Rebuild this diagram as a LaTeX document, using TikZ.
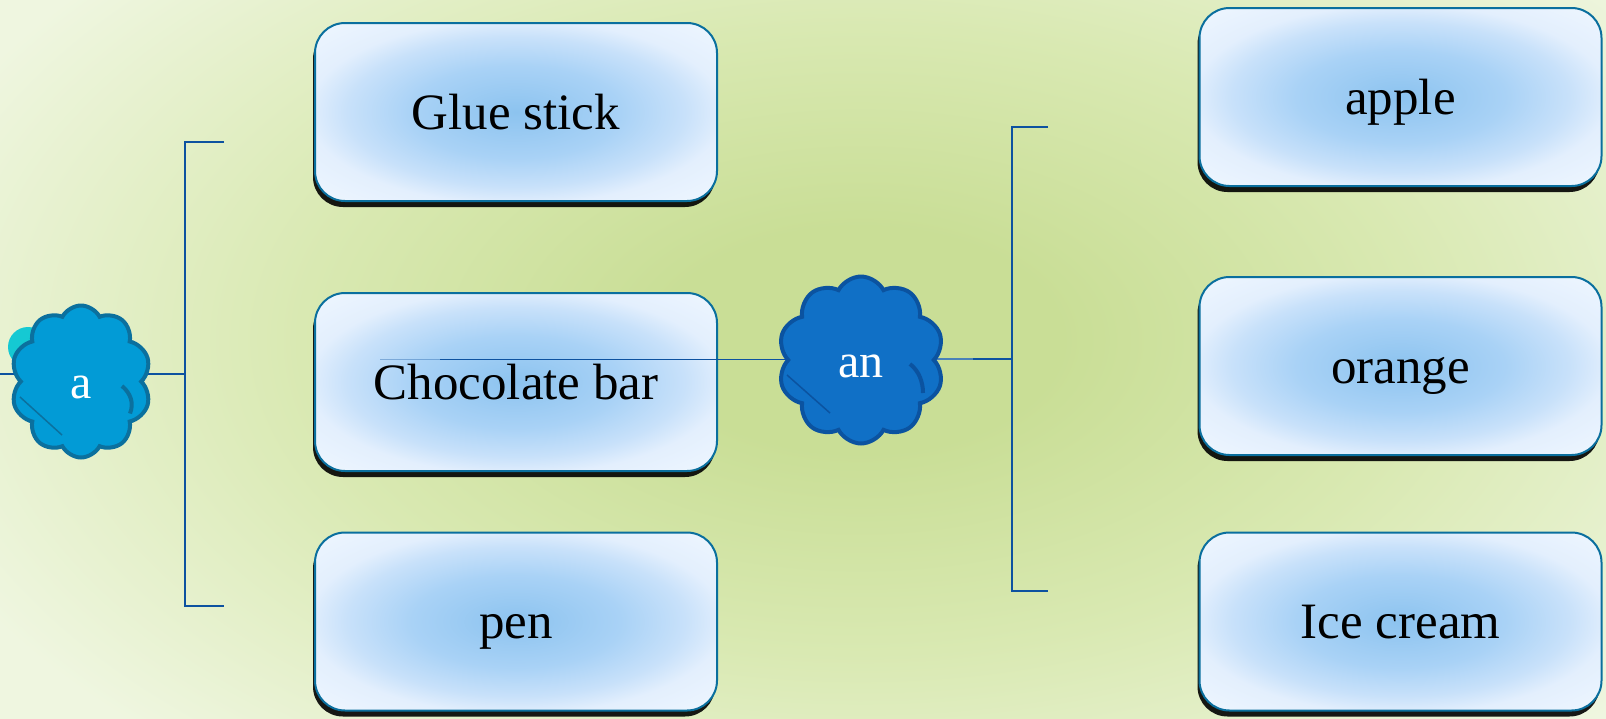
\documentclass[tikz,border=0pt]{standalone}
\usepackage{fontspec}
\setmainfont{Liberation Serif}
\usetikzlibrary{shapes.symbols,shadows}
\definecolor{bgin}{HTML}{C9DE96}
\definecolor{bgmid}{HTML}{D9E9B2}
\definecolor{bgout}{HTML}{EFF6E0}
\definecolor{boxin}{HTML}{8CC3EF}
\definecolor{boxa}{HTML}{A9D2F6}
\definecolor{boxb}{HTML}{C8E1FA}
\definecolor{boxout}{HTML}{E3EFFD}
\definecolor{boxcorner}{HTML}{EEF6FF}
\definecolor{boxline}{HTML}{0A6F9E}
\definecolor{brk}{HTML}{0D52A0}
\definecolor{brklight}{HTML}{4A82B8}
\definecolor{acl}{HTML}{029BD6}
\definecolor{acldraw}{HTML}{0B709E}
\definecolor{ancl}{HTML}{1070C6}
\definecolor{ancldraw}{HTML}{0B53A0}
\definecolor{cyanc}{HTML}{15C9D3}
\pgfdeclareradialshading{bgshade}{\pgfpoint{0bp}{0bp}}{color(0bp)=(bgin); color(5bp)=(bgin); color(14bp)=(bgmid); color(25bp)=(bgout); color(50bp)=(bgout)}
\pgfdeclareradialshading{boxshade}{\pgfpoint{0bp}{0bp}}{color(0bp)=(boxin); color(13bp)=(boxa); color(21bp)=(boxb); color(26bp)=(boxout); color(35bp)=(boxcorner); color(50bp)=(boxcorner)}
\pgfdeclarelayer{bglayer}
\pgfdeclarelayer{connlayer}
\pgfsetlayers{bglayer,connlayer,main}
\tikzset{
  itembox/.style={rectangle, rounded corners=30pt, draw=boxline, line width=2pt,
    shade, shading=boxshade, minimum width=402pt, minimum height=178pt, inner sep=0pt,
    text height=34pt, text depth=0pt,
    font=\fontsize{51}{60}\selectfont,
    drop shadow={shadow xshift=-2pt, shadow yshift=-6pt, opacity=0.9, fill=black}},
  cloudnode/.style={cloud, cloud puffs=10, cloud puff arc=125, aspect=0.95, line width=4pt,
    inner sep=0pt, text=white, text height=34pt, text depth=0pt,
    font=\fontsize{48}{56}\selectfont},
  brkline/.style={draw=brk, line width=2.5pt},
  thinline/.style={draw=brk, line width=1.2pt},
}
\begin{document}
\begin{tikzpicture}[x=1pt,y=-1pt]
\useasboundingbox (0,0) rectangle (1606,718);
\begin{pgfonlayer}{bglayer}
\clip (0,0) rectangle (1606,718);
\shade[shading=bgshade] (-140,-220) rectangle (1860,900);
\end{pgfonlayer}

% coordinates for connectors
\coordinate (lfree) at (0,374);
\coordinate (lbm) at (185,374);
\coordinate (lbt) at (185,142);
\coordinate (lbb) at (185,606);
\coordinate (lbtt) at (224,142);
\coordinate (lbbt) at (224,606);
\coordinate (rbm) at (1012,359);
\coordinate (rbt) at (1012,127);
\coordinate (rbb) at (1012,591);
\coordinate (rbtt) at (1048,127);
\coordinate (rbbt) at (1048,591);
\coordinate (rjoin) at (973,359);
\coordinate (cfree) at (380,359);

% item boxes
\node[itembox] (glue) at (516,112) {Glue stick};
\node[itembox] (choc) at (516,382) {Chocolate bar};
\node[itembox] (pen) at (516,621.5) {pen};
\node[itembox] (apple) at (1400.5,97) {apple};
\node[itembox] (orange) at (1400.5,366) {orange};
\node[itembox] (ice) at (1400.5,621.5) {Ice cream};

% clouds
\fill[cyanc] (28,347) circle (20);
\node[cloudnode, fill=acl, draw=acldraw, minimum width=140pt, minimum height=152pt] (acloud) at (81,381.5) {a};
\node[cloudnode, fill=ancl, draw=ancldraw, minimum width=166pt, minimum height=167pt] (ancloud) at (861,360) {an};

% interior strokes of clouds
\begin{scope}[shift={(acloud.center)}]
\draw[acldraw, line width=1.5pt] (-61,15.5) -- (-19,53.5);
\draw[acldraw, line width=4pt] (41,4.5) .. controls (50,12) and (53,22) .. (49,32);
\end{scope}
\begin{scope}[shift={(ancloud.center)}]
\draw[ancldraw, line width=1.5pt] (-74,15) -- (-31,53);
\draw[ancldraw, line width=4pt] (49,4) .. controls (58,11) and (62,22) .. (62,33);
\end{scope}

% connectors
\begin{pgfonlayer}{connlayer}
\draw[thinline] (lfree) -- (acloud.center |- lfree);
\draw[brkline] (acloud.center |- lbm) -- (lbm);
\draw[draw=brklight, line width=1.2pt] (ancloud.center |- rbm) -- (rjoin);
\draw[brkline] (rjoin) -- (rbm);
\end{pgfonlayer}
\draw[brkline] (lbtt) -- (lbt) -- (lbb) -- (lbbt);
\draw[brkline] (rbtt) -- (rbt) -- (rbb) -- (rbbt);
\draw[draw=brk, line width=1pt, opacity=0.35] (cfree) -- (440,359);
\draw[draw=brk, line width=1pt] (440,359) -- (ancloud.west |- cfree);
\end{tikzpicture}
\end{document}
